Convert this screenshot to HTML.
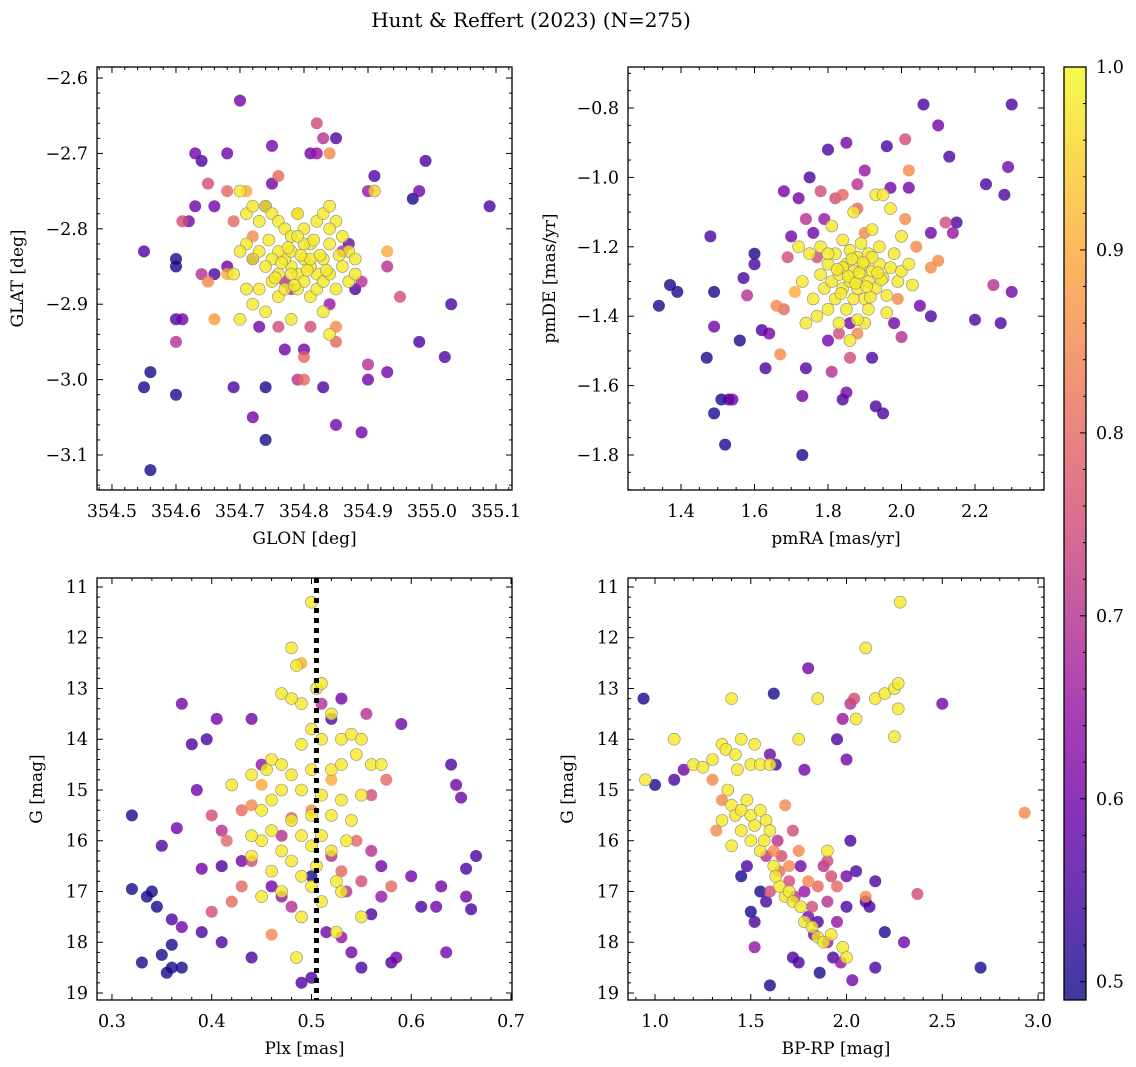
<!DOCTYPE html>
<html><head><meta charset="utf-8">
<style>
html,body{margin:0;padding:0;background:#fff;}
svg{display:block;font-family:"DejaVu Serif","Liberation Serif",serif;}
</style></head>
<body>
<svg id="fig" width="1136" height="1067" viewBox="0 0 1136 1067" xmlns="http://www.w3.org/2000/svg">
<text x="531" y="27" text-anchor="middle" font-size="20">Hunt &amp; Reffert (2023) (N=275)</text>
</svg>
<script>
// ---- data: [x, y, prob] per panel ----
const posLow = [[354.55,-2.83,0.55],[354.55,-3.01,0.5],[354.56,-2.99,0.5],[354.56,-3.12,0.5],[354.60,-2.84,0.5],[354.60,-2.85,0.5],[354.60,-2.92,0.55],[354.60,-3.02,0.5],[354.61,-2.92,0.6],[354.60,-2.95,0.7],[354.61,-2.79,0.75],[354.62,-2.79,0.6],[354.63,-2.70,0.6],[354.64,-2.71,0.55],[354.63,-2.77,0.6],[354.64,-2.86,0.7],[354.65,-2.87,0.85],[354.65,-2.74,0.75],[354.66,-2.77,0.6],[354.66,-2.86,0.55],[354.66,-2.92,0.88],[354.68,-2.70,0.6],[354.68,-2.75,0.8],[354.69,-2.79,0.8],[354.68,-2.85,0.6],[354.69,-3.01,0.55],[354.70,-2.63,0.6],[354.71,-2.75,0.9],[354.72,-3.05,0.6],[354.72,-2.84,0.55],[354.73,-2.93,0.6],[354.74,-2.77,0.55],[354.75,-2.74,0.6],[354.74,-3.01,0.5],[354.74,-3.08,0.5],[354.75,-2.69,0.6],[354.76,-2.73,0.8],[354.76,-2.93,0.75],[354.77,-2.96,0.6],[354.78,-2.88,0.7],[354.79,-3.0,0.7],[354.8,-3.0,0.8],[354.80,-2.97,0.8],[354.80,-2.96,0.6],[354.81,-2.70,0.6],[354.82,-2.70,0.65],[354.82,-2.66,0.75],[354.83,-2.68,0.7],[354.83,-3.01,0.55],[354.84,-2.70,0.85],[354.85,-2.68,0.55],[354.85,-2.95,0.8],[354.85,-3.06,0.6],[354.87,-2.82,0.6],[354.88,-2.88,0.55],[354.89,-2.87,0.7],[354.89,-3.07,0.6],[354.90,-2.75,0.65],[354.90,-2.98,0.7],[354.91,-2.73,0.55],[354.91,-2.75,0.95],[354.93,-2.83,0.9],[354.93,-2.85,0.7],[354.93,-2.99,0.6],[354.95,-2.89,0.75],[354.97,-2.76,0.5],[354.98,-2.75,0.6],[354.98,-2.95,0.55],[354.99,-2.71,0.55],[355.02,-2.97,0.55],[355.03,-2.90,0.55],[355.09,-2.77,0.55],[354.9,-3.0,0.6],[354.68,-2.86,0.9],[354.72,-2.81,0.85],[354.81,-2.93,0.75],[354.77,-2.87,0.7],[354.84,-2.90,0.65],[354.85,-2.93,0.85],[354.79,-2.78,0.9],[354.86,-2.83,0.7]];
const posHigh = [[354.70,-2.75],[354.71,-2.78],[354.72,-2.77],[354.73,-2.79],[354.74,-2.77],[354.75,-2.78],[354.76,-2.79],[354.77,-2.80],[354.78,-2.81],[354.79,-2.78],[354.80,-2.80],[354.81,-2.82],[354.82,-2.79],[354.83,-2.78],[354.84,-2.77],[354.85,-2.79],[354.86,-2.81],[354.87,-2.83],[354.88,-2.84],[354.84,-2.82],[354.83,-2.84],[354.82,-2.86],[354.81,-2.85],[354.80,-2.84],[354.79,-2.86],[354.78,-2.85],[354.77,-2.84],[354.76,-2.83],[354.75,-2.84],[354.74,-2.85],[354.73,-2.83],[354.72,-2.84],[354.71,-2.82],[354.70,-2.83],[354.69,-2.86],[354.71,-2.88],[354.72,-2.90],[354.73,-2.88],[354.75,-2.87],[354.76,-2.89],[354.77,-2.88],[354.78,-2.86],[354.79,-2.88],[354.80,-2.87],[354.81,-2.89],[354.82,-2.88],[354.83,-2.87],[354.84,-2.86],[354.85,-2.88],[354.86,-2.85],[354.87,-2.87],[354.88,-2.86],[354.70,-2.92],[354.74,-2.91],[354.78,-2.92],[354.83,-2.91],[354.84,-2.94],[354.78,-2.83],[354.81,-2.84],[354.76,-2.86],[354.80,-2.82],[354.79,-2.81],[354.84,-2.80],[354.775,-2.825],[354.795,-2.835],[354.805,-2.855],[354.785,-2.875],[354.765,-2.845],[354.815,-2.815],[354.825,-2.835],[354.745,-2.815],[354.755,-2.865],[354.835,-2.855],[354.855,-2.835]];
const pmLow = [[1.34,-1.37,0.5],[1.37,-1.31,0.5],[1.39,-1.33,0.5],[1.47,-1.52,0.5],[1.48,-1.17,0.55],[1.49,-1.33,0.5],[1.49,-1.43,0.6],[1.49,-1.68,0.5],[1.51,-1.64,0.5],[1.52,-1.77,0.5],[1.53,-1.64,0.55],[1.54,-1.64,0.6],[1.56,-1.47,0.5],[1.57,-1.29,0.55],[1.58,-1.34,0.7],[1.6,-1.22,0.5],[1.6,-1.25,0.55],[1.62,-1.44,0.55],[1.63,-1.55,0.55],[1.64,-1.45,0.6],[1.66,-1.37,0.85],[1.67,-1.51,0.85],[1.68,-1.04,0.6],[1.68,-1.38,0.8],[1.69,-1.23,0.75],[1.7,-1.17,0.6],[1.71,-1.33,0.9],[1.72,-1.06,0.6],[1.73,-1.80,0.5],[1.73,-1.63,0.6],[1.74,-1.55,0.55],[1.74,-1.12,0.7],[1.75,-1.0,0.55],[1.76,-1.16,0.6],[1.77,-1.23,0.75],[1.78,-1.04,0.75],[1.79,-1.12,0.65],[1.8,-0.92,0.55],[1.8,-1.47,0.6],[1.81,-1.56,0.7],[1.82,-1.06,0.75],[1.83,-1.45,0.75],[1.84,-1.64,0.55],[1.85,-1.62,0.6],[1.85,-0.90,0.6],[1.86,-1.52,0.75],[1.86,-1.42,0.6],[1.88,-1.09,0.8],[1.88,-1.02,0.7],[1.9,-0.98,0.65],[1.92,-1.52,0.55],[1.93,-1.66,0.55],[1.95,-1.68,0.55],[1.96,-0.91,0.55],[1.97,-1.03,0.6],[1.98,-1.42,0.6],[2.0,-1.46,0.7],[2.01,-0.89,0.75],[2.02,-1.03,0.6],[2.05,-1.37,0.6],[2.06,-0.79,0.55],[2.08,-1.16,0.6],[2.08,-1.4,0.55],[2.1,-0.85,0.6],[2.12,-1.13,0.75],[2.13,-0.94,0.55],[2.14,-1.16,0.65],[2.15,-1.13,0.55],[2.2,-1.41,0.55],[2.23,-1.02,0.55],[2.25,-1.31,0.7],[2.27,-1.42,0.55],[2.28,-1.05,0.55],[2.29,-0.97,0.6],[2.30,-1.33,0.6],[2.30,-0.79,0.55],[2.04,-1.2,0.85],[2.02,-0.98,0.85],[2.01,-1.12,0.85],[2.08,-1.26,0.85],[2.1,-1.24,0.85],[1.99,-1.35,0.85],[1.9,-1.16,0.85],[1.88,-1.45,0.85],[1.84,-1.05,0.8]];
const pmHigh = [[1.72,-1.20],[1.75,-1.22],[1.76,-1.35],[1.77,-1.40],[1.78,-1.28],[1.79,-1.32],[1.80,-1.25],[1.80,-1.38],[1.81,-1.30],[1.82,-1.22],[1.82,-1.35],[1.83,-1.28],[1.84,-1.18],[1.84,-1.32],[1.85,-1.25],[1.85,-1.38],[1.86,-1.30],[1.86,-1.21],[1.87,-1.27],[1.87,-1.35],[1.88,-1.23],[1.88,-1.32],[1.89,-1.28],[1.89,-1.19],[1.90,-1.25],[1.90,-1.35],[1.91,-1.30],[1.91,-1.22],[1.92,-1.27],[1.92,-1.15],[1.93,-1.32],[1.93,-1.05],[1.94,-1.25],[1.94,-1.20],[1.95,-1.29],[1.95,-1.05],[1.96,-1.34],[1.97,-1.26],[1.98,-1.22],[1.99,-1.30],[2.00,-1.17],[2.00,-1.27],[2.02,-1.25],[2.03,-1.31],[1.86,-1.47],[1.83,-1.42],[1.87,-1.10],[1.78,-1.20],[1.73,-1.30],[1.74,-1.42],[1.96,-1.39],[1.90,-1.42],[1.81,-1.14],[1.97,-1.09],[1.91,-1.38],[1.88,-1.41],[1.84,-1.26],[1.92,-1.23],[1.80,-1.22],[1.855,-1.285],[1.875,-1.305],[1.895,-1.245],[1.915,-1.345],[1.835,-1.335],[1.865,-1.235],[1.885,-1.275],[1.945,-1.295],[1.825,-1.265],[1.905,-1.315],[1.935,-1.275]];
const plxLow = [[0.32,15.5,0.5],[0.32,16.95,0.5],[0.33,18.4,0.5],[0.335,17.1,0.5],[0.34,17.0,0.5],[0.345,17.3,0.5],[0.35,18.25,0.5],[0.35,16.1,0.55],[0.355,18.6,0.5],[0.36,17.55,0.55],[0.36,18.05,0.5],[0.36,18.5,0.5],[0.365,15.75,0.6],[0.37,13.3,0.6],[0.37,17.7,0.6],[0.37,18.5,0.5],[0.38,14.1,0.55],[0.385,15.0,0.6],[0.39,16.55,0.6],[0.39,17.8,0.55],[0.395,14.0,0.55],[0.4,15.5,0.75],[0.4,17.4,0.75],[0.405,13.6,0.6],[0.41,15.8,0.7],[0.41,16.5,0.55],[0.415,16.0,0.8],[0.42,17.2,0.8],[0.43,16.4,0.6],[0.44,18.3,0.55],[0.44,13.6,0.6],[0.45,14.5,0.65],[0.46,17.85,0.85],[0.47,15.9,0.7],[0.48,15.55,0.8],[0.49,12.5,0.9],[0.49,18.8,0.55],[0.5,18.7,0.55],[0.5,16.7,0.5],[0.51,13.3,0.7],[0.515,17.8,0.6],[0.52,13.6,0.55],[0.53,13.2,0.6],[0.54,18.2,0.6],[0.545,16.0,0.8],[0.55,18.5,0.55],[0.555,13.5,0.7],[0.56,15.1,0.75],[0.56,17.45,0.55],[0.57,16.5,0.6],[0.575,14.8,0.8],[0.58,18.4,0.55],[0.585,18.3,0.6],[0.59,13.7,0.6],[0.6,16.7,0.6],[0.61,17.3,0.55],[0.625,17.3,0.6],[0.63,16.9,0.6],[0.635,18.2,0.6],[0.64,14.5,0.55],[0.645,14.9,0.6],[0.65,15.15,0.6],[0.655,17.1,0.6],[0.655,16.55,0.55],[0.66,17.35,0.55],[0.665,16.3,0.55],[0.43,16.9,0.8],[0.44,16.4,0.75],[0.46,16.9,0.6],[0.47,17.1,0.65],[0.52,16.3,0.7],[0.53,16.6,0.8],[0.535,17.0,0.7],[0.55,16.8,0.75],[0.56,16.2,0.7],[0.57,17.1,0.65],[0.58,16.9,0.8],[0.43,15.4,0.8],[0.44,15.3,0.85],[0.45,14.9,0.9],[0.52,14.8,0.9],[0.5,15.4,0.85],[0.48,17.3,0.7],[0.41,18.0,0.55],[0.53,17.9,0.65]];
const plxHigh = [[0.50,11.3],[0.48,12.2],[0.485,12.55],[0.49,13.3],[0.47,13.1],[0.48,13.2],[0.505,13.0],[0.51,12.9],[0.52,13.5],[0.50,13.8],[0.46,14.4],[0.47,14.5],[0.49,14.1],[0.51,14.0],[0.53,14.0],[0.54,13.9],[0.55,14.0],[0.545,14.3],[0.44,14.7],[0.455,14.6],[0.48,14.7],[0.5,14.6],[0.52,14.6],[0.53,14.5],[0.56,14.5],[0.57,14.5],[0.42,14.9],[0.47,15.0],[0.49,15.0],[0.51,15.1],[0.53,15.2],[0.55,15.1],[0.46,15.2],[0.45,15.4],[0.48,15.6],[0.5,15.5],[0.52,15.5],[0.54,15.6],[0.46,15.8],[0.49,15.9],[0.51,15.9],[0.535,16.0],[0.47,16.2],[0.5,16.1],[0.52,16.2],[0.44,16.3],[0.48,16.4],[0.505,16.5],[0.46,16.6],[0.49,16.7],[0.45,17.1],[0.47,17.0],[0.51,17.2],[0.53,17.0],[0.49,17.5],[0.485,18.3],[0.525,17.8],[0.55,17.5],[0.45,16.0],[0.525,16.8],[0.44,15.9],[0.5,16.9]];
const cmdLow = [[0.94,13.2,0.5],[1.0,14.9,0.5],[1.1,14.8,0.55],[1.15,14.6,0.6],[1.3,14.8,0.85],[1.32,15.8,0.85],[1.35,15.2,0.85],[1.45,16.7,0.5],[1.48,16.5,0.55],[1.5,17.4,0.5],[1.52,17.6,0.55],[1.52,18.1,0.65],[1.55,17.0,0.5],[1.58,17.2,0.55],[1.6,18.85,0.5],[1.6,14.3,0.6],[1.62,13.1,0.5],[1.63,14.5,0.55],[1.64,16.0,0.7],[1.66,16.3,0.75],[1.68,15.3,0.85],[1.7,16.8,0.75],[1.72,18.3,0.55],[1.73,17.1,0.7],[1.75,18.4,0.55],[1.76,16.5,0.6],[1.78,14.6,0.6],[1.78,17.0,0.65],[1.8,12.6,0.6],[1.8,17.5,0.6],[1.82,17.3,0.75],[1.83,17.85,0.6],[1.85,17.6,0.55],[1.86,18.6,0.5],[1.88,16.5,0.7],[1.9,17.2,0.7],[1.9,18.0,0.65],[1.92,16.7,0.75],[1.93,18.3,0.55],[1.95,14.0,0.55],[1.95,17.6,0.65],[1.97,18.4,0.65],[1.98,13.6,0.65],[2.0,14.4,0.6],[2.0,17.3,0.55],[2.0,16.7,0.6],[2.02,16.0,0.55],[2.03,18.75,0.6],[2.05,16.6,0.55],[2.1,17.1,0.85],[2.1,17.2,0.55],[2.12,17.3,0.55],[2.15,16.8,0.55],[2.15,18.5,0.55],[2.2,17.8,0.5],[2.3,18.0,0.6],[2.37,17.05,0.75],[2.5,13.3,0.6],[2.7,18.5,0.5],[2.93,15.45,0.85],[2.02,13.3,0.7],[2.04,13.2,0.75],[1.7,16.5,0.85],[1.75,16.2,0.85],[1.8,16.8,0.85],[1.62,16.2,0.85],[1.65,16.6,0.8],[1.85,16.9,0.8],[1.72,15.8,0.75],[1.58,16.3,0.7],[1.9,16.4,0.75],[1.95,16.9,0.8],[1.6,17.0,0.75]];
const cmdHigh = [[0.95,14.8],[1.1,14.0],[1.2,14.5],[1.25,14.55],[1.3,14.4],[1.35,14.1],[1.37,14.2],[1.4,13.2],[1.42,14.3],[1.45,14.0],[1.43,14.6],[1.5,14.5],[1.52,14.1],[1.55,14.5],[1.38,15.0],[1.4,15.3],[1.42,15.5],[1.45,15.4],[1.48,15.2],[1.5,15.5],[1.52,15.7],[1.55,15.4],[1.58,15.6],[1.6,15.8],[1.45,15.8],[1.5,16.0],[1.55,16.2],[1.4,16.1],[1.62,16.5],[1.65,16.9],[1.68,17.1],[1.7,17.0],[1.72,17.2],[1.76,17.3],[1.78,17.6],[1.82,17.7],[1.85,17.9],[1.88,18.0],[1.92,17.85],[1.98,18.1],[2.0,18.3],[1.9,16.2],[1.75,14.0],[1.6,14.5],[1.35,15.6],[2.1,12.2],[2.15,13.2],[2.2,13.1],[2.25,13.0],[2.27,12.9],[2.28,11.3],[2.25,13.95],[2.27,13.4],[2.05,13.6],[1.85,13.2],[1.57,16.0],[1.63,16.7]];
const highProb = 0.98;
const plxMean = [0.505];
const xTicksPos = [354.5,354.6,354.7,354.8,354.9,355.0,355.1];
const yTicksPos = [-2.6,-2.7,-2.8,-2.9,-3.0,-3.1];
const xTicksPm = [1.4,1.6,1.8,2.0,2.2];
const yTicksPm = [-0.8,-1.0,-1.2,-1.4,-1.6,-1.8];
const xTicksPlx = [0.3,0.4,0.5,0.6,0.7];
const yTicksG = [11,12,13,14,15,16,17,18,19];
const xTicksCol = [1.0,1.5,2.0,2.5,3.0];
const cbTicks = [0.5,0.6,0.7,0.8,0.9,1.0];

const NS='http://www.w3.org/2000/svg';
const svg=document.getElementById('fig');
function mk(tag,attrs,parent){const e=document.createElementNS(NS,tag);for(const k in attrs)e.setAttribute(k,attrs[k]);(parent||svg).appendChild(e);return e;}
const VMIN=0.49,VMAX=1.0;
const stops=['#0d0887','#41049d','#6a00a8','#8f0da4','#b12a90','#cc4778','#e16462','#f2844b','#fca636','#fcce25','#f0f921'];
function hx(h){return [1,3,5].map(i=>parseInt(h.substr(i,2),16));}
function plasma(p){let t=(p-VMIN)/(VMAX-VMIN);t=Math.max(0,Math.min(1,t));const f=t*10,i=Math.min(9,Math.floor(f)),r=f-i;const a=hx(stops[i]),b=hx(stops[i+1]);return 'rgb('+a.map((v,k)=>Math.round(v+(b[k]-v)*r)).join(',')+')';}
function fmt(v,d){const s=Math.abs(v).toFixed(d);return (v<0?'\u2212':'')+s;}

function panel(cfg){
  const g=mk('g',{});
  
  
  const L=cfg.box[0],T=cfg.box[1],R=cfg.box[2],B=cfg.box[3];
  const sx=v=>L+(v-cfg.xd[0])/(cfg.xd[1]-cfg.xd[0])*(R-L);
  const sy=v=>T+(v-cfg.yd[0])/(cfg.yd[1]-cfg.yd[0])*(B-T);
  const pts=cfg.low.map(d=>[d[0],d[1],d[2]]).concat(cfg.high.map(d=>[d[0],d[1],highProb]));
  pts.sort((a,b)=>a[2]-b[2]);
  const pg=mk('g',{},g);
  
  
  pts.forEach(d=>{
    const c=mk('circle',{cx:sx(d[0]).toFixed(1),cy:sy(d[1]).toFixed(1),r:6,fill:plasma(d[2]),'fill-opacity':0.8},pg);
    if(d[2]>=0.95){c.setAttribute('stroke','#888');c.setAttribute('stroke-width','0.6');}
    
    
  });
  if(cfg.vline){cfg.vline.forEach(v=>{
    const l=mk('line',{x1:sx(v),x2:sx(v),y1:T,y2:B,stroke:'#000','stroke-width':5,'stroke-dasharray':'5,5'},g);
    
    
  });}
  const fr=mk('rect',{x:L,y:T,width:R-L,height:B-T,fill:'none',stroke:'#000','stroke-width':1.3},g);
  
  
  function ticks(axis,majors,minorStep,dom,dec){
    const lo=Math.min(dom[0],dom[1]),hi=Math.max(dom[0],dom[1]);
    const n0=Math.ceil(lo/minorStep-1e-6),n1=Math.floor(hi/minorStep+1e-6);
    for(let n=n0;n<=n1;n++){const v=n*minorStep;const maj=majors.some(m=>Math.abs(m-v)<minorStep/4);const len=maj?6:3;
      if(axis==='x'){const x=sx(v);mk('line',{x1:x,x2:x,y1:B,y2:B-len,stroke:'#000','stroke-width':1},g);mk('line',{x1:x,x2:x,y1:T,y2:T+len,stroke:'#000','stroke-width':1},g);}
      else{const y=sy(v);mk('line',{x1:L,x2:L+len,y1:y,y2:y,stroke:'#000','stroke-width':1},g);mk('line',{x1:R,x2:R-len,y1:y,y2:y,stroke:'#000','stroke-width':1},g);}
    }
    majors.forEach(v=>{let t;
      if(axis==='x'){t=mk('text',{x:sx(v),y:B+27,'text-anchor':'middle','font-size':17.5},g);}
      else{t=mk('text',{x:L-9,y:sy(v)+6,'text-anchor':'end','font-size':17.5},g);}
      t.textContent=fmt(v,dec);
      
      
    });
  }
  ticks('x',cfg.xt,cfg.xm,cfg.xd,1);
  ticks('y',cfg.yt,cfg.ym,cfg.yd,cfg.ydec);
  const xl=mk('text',{x:(L+R)/2,y:B+54,'text-anchor':'middle','font-size':17},g);xl.textContent=cfg.xl;
  
  
  const yx=cfg.ylx,yy=(T+B)/2;
  const yl=mk('text',{x:yx,y:yy,'text-anchor':'middle','font-size':17,transform:'rotate(-90 '+yx+' '+yy+')'},g);yl.textContent=cfg.yl;
  
  
}
panel({name:'position-panel',box:[97,67,512,490],xd:[354.4766,355.125],yd:[-2.5854,-3.1464],xt:xTicksPos,xm:0.02,yt:yTicksPos,ym:0.02,ydec:1,low:posLow,high:posHigh,xl:'GLON [deg]',yl:'GLAT [deg]',ylx:23});
panel({name:'proper-motion-panel',box:[628,67,1044,490],xd:[1.2558,2.3878],yd:[-0.6818,-1.9009],xt:xTicksPm,xm:0.05,yt:yTicksPm,ym:0.05,ydec:1,low:pmLow,high:pmHigh,xl:'pmRA [mas/yr]',yl:'pmDE [mas/yr]',ylx:555});
panel({name:'parallax-panel',box:[97,578,512,1000],xd:[0.285,0.701],yd:[10.823,19.138],xt:xTicksPlx,xm:0.02,yt:yTicksG,ym:0.2,ydec:0,low:plxLow,high:plxHigh,xl:'Plx [mas]',yl:'G [mag]',ylx:42,vline:plxMean});
panel({name:'cmd-panel',box:[628,578,1044,1000],xd:[0.859,3.031],yd:[10.823,19.138],xt:xTicksCol,xm:0.1,yt:yTicksG,ym:0.2,ydec:0,low:cmdLow,high:cmdHigh,xl:'BP-RP [mag]',yl:'G [mag]',ylx:573});

const cb=mk('g',{});


const defs=mk('defs',{},cb);
const lg=mk('linearGradient',{id:'pl',x1:0,y1:1,x2:0,y2:0},defs);
stops.forEach((s,i)=>mk('stop',{offset:(i/10),'stop-color':s},lg));
const CT=67,CB=1000,CL=1064,CR=1086;
const cy=v=>CB-(v-VMIN)/(VMAX-VMIN)*(CB-CT);
mk('rect',{x:CL,y:CT,width:CR-CL,height:CB-CT,fill:'url(#pl)','fill-opacity':0.8},cb);
mk('rect',{x:CL,y:CT,width:CR-CL,height:CB-CT,fill:'none',stroke:'#000','stroke-width':1.3},cb);
for(let n=25;n<=50;n++){const v=n*0.02;const y=cy(v);const maj=cbTicks.some(m=>Math.abs(m-v)<0.005);mk('line',{x1:CR,x2:CR-(maj?6:3),y1:y,y2:y,stroke:'#000'},cb);}
cbTicks.forEach(v=>{const t=mk('text',{x:CR+10,y:cy(v)+6,'font-size':17.5},cb);t.textContent=v.toFixed(1);
  
  });
</script>
</body></html>
